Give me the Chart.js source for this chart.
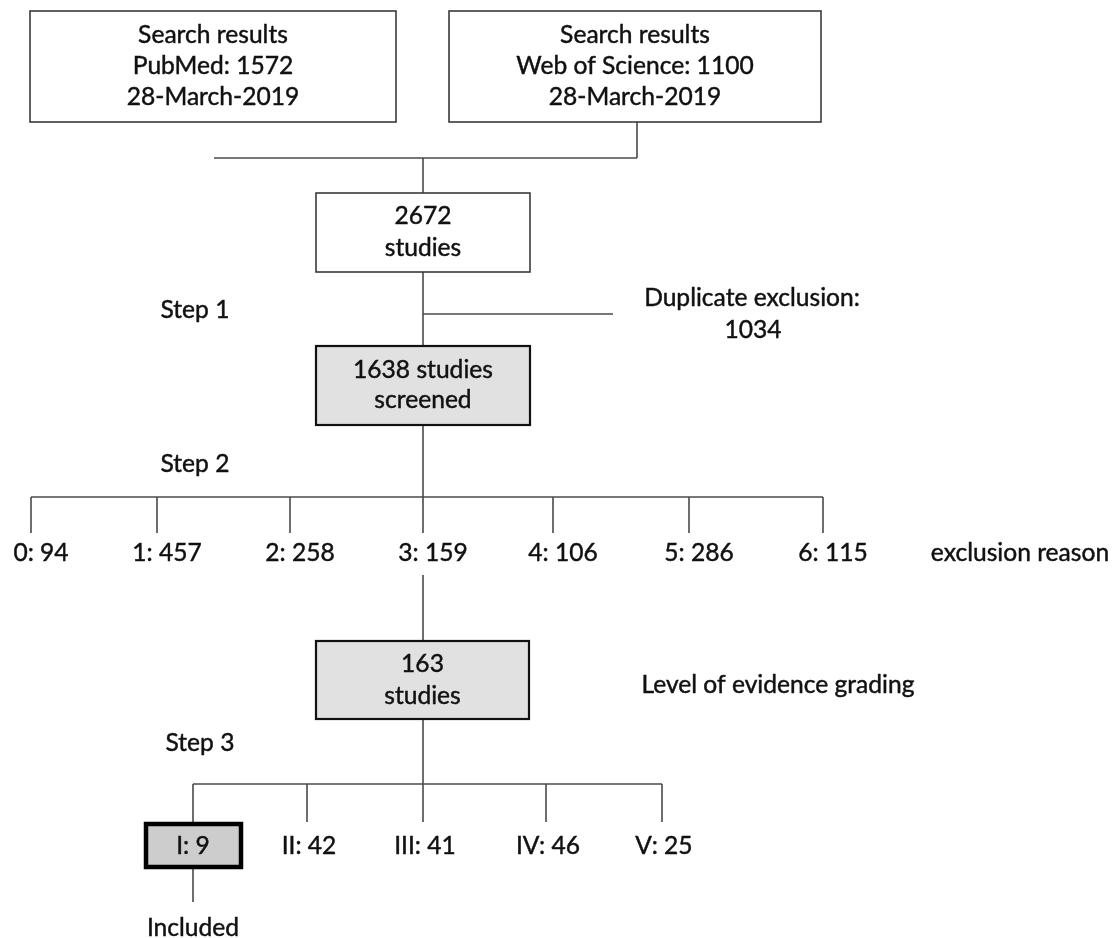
<!DOCTYPE html>
<html>
<head>
<meta charset="utf-8">
<title>Study selection flow</title>
<script src="https://cdn.jsdelivr.net/npm/chart.js@4.4.1/dist/chart.umd.min.js"></script>
<style>
  html, body { margin: 0; padding: 0; background: #fff; }
  #wrap { width: 1115px; height: 938px; }
</style>
</head>
<body>
<div id="wrap"><canvas id="flow" width="1115" height="938"></canvas></div>
<script>
// ---- data ----
const searchSources = ["PubMed", "Web of Science"];
const searchCounts = [1572, 1100];
const searchDate = "28-March-2019";
const totalStudies = 2672;
const duplicateExcluded = 1034;
const screenedStudies = 1638;
const exclusionCodes = [0, 1, 2, 3, 4, 5, 6];
const exclusionCounts = [94, 457, 258, 159, 106, 286, 115];
const gradedStudies = 163;
const evidenceLevels = ["I", "II", "III", "IV", "V"];
const evidenceCounts = [9, 42, 41, 46, 25];
const includedLevel = "I";
const stepLabels = ["Step 1", "Step 2", "Step 3"];

// ---- layout (page units, y grows downwards) ----
const W = 1115;
const H = 938;
const MID = 423;
const LAYOUT = {
  search: [
    { x0: 30, x1: 396, y0: 11, y1: 122 },
    { x0: 449, x1: 821, y0: 11, y1: 122 },
  ],
  mergeY: 158,
  mergeX0: 214,
  mergeX1: 637,
  total: { x0: 316, x1: 530, y0: 193, y1: 272 },
  dupY: 314,
  dupX1: 613,
  dupText: { x: 752, y: 298 },
  screened: { x0: 316, x1: 530, y0: 346, y1: 425 },
  exclBarY: 497,
  exclTickY: 533,
  exclX: [31, 157, 290, 423, 553, 689, 823],
  exclLabelY: 553,
  exclLabelDx: 10,
  exclCaption: { x: 1020, y: 553 },
  exclResumeY: 575,
  graded: { x0: 316, x1: 529, y0: 641, y1: 719 },
  gradeCaption: { x: 778, y: 685 },
  evidBarY: 784,
  evidTickY: 822,
  evidX: [193, 307, 423, 546, 662],
  evidLabelY: 846,
  includedBox: { x0: 146, x1: 241, y0: 824, y1: 867 },
  includedLineY: 902,
  includedText: { x: 193, y: 928 },
  steps: [
    { x: 195, y: 310 },
    { x: 195, y: 464 },
    { x: 200, y: 743 },
  ],
};

const FONT = '24.6px Lato, "Open Sans", sans-serif';
const INK = "#111";
const WIRE = "#4a4a4a";
const BOX_FILL = "#e1e1e1";
const PICK_FILL = "#cdcdcd";

/** one connector segment as a scatter dataset */
function seg(x0, y0, x1, y1) {
  return {
    data: [{ x: x0, y: y0 }, { x: x1, y: y1 }],
    showLine: true,
    borderColor: WIRE,
    borderWidth: 1.6,
    pointRadius: 0,
    fill: false,
  };
}

function buildConnectors() {
  const L = LAYOUT;
  const sets = [];
  const wos = L.search[1];
  sets.push(seg(L.mergeX1, wos.y1, L.mergeX1, L.mergeY));
  sets.push(seg(L.mergeX0, L.mergeY, L.mergeX1, L.mergeY));
  sets.push(seg(MID, L.mergeY, MID, L.total.y0));
  sets.push(seg(MID, L.total.y1, MID, L.screened.y0));
  sets.push(seg(MID, L.dupY, L.dupX1, L.dupY));
  sets.push(seg(MID, L.screened.y1, MID, L.exclBarY));
  sets.push(seg(L.exclX[0], L.exclBarY, L.exclX[L.exclX.length - 1], L.exclBarY));
  exclusionCodes.forEach((_, i) => {
    sets.push(seg(L.exclX[i], L.exclBarY, L.exclX[i], L.exclTickY));
  });
  const keep = exclusionCodes.indexOf(3);
  sets.push(seg(L.exclX[keep], L.exclResumeY, L.exclX[keep], L.graded.y0));
  sets.push(seg(MID, L.graded.y1, MID, L.evidBarY));
  sets.push(seg(L.evidX[0], L.evidBarY, L.evidX[L.evidX.length - 1], L.evidBarY));
  evidenceLevels.forEach((_, i) => {
    sets.push(seg(L.evidX[i], L.evidBarY, L.evidX[i], L.evidTickY));
  });
  const inc = evidenceLevels.indexOf(includedLevel);
  sets.push(seg(L.evidX[inc], L.includedBox.y1, L.evidX[inc], L.includedLineY));
  return sets;
}

const flowPlugin = {
  id: "flowBoxes",
  afterDatasetsDraw(chart) {
    const { ctx, scales } = chart;
    const px = (v) => scales.x.getPixelForValue(v);
    const py = (v) => scales.y.getPixelForValue(v);

    function box(b, fill, stroke, lw) {
      const x = px(b.x0), y = py(b.y0);
      const w = px(b.x1) - x, h = py(b.y1) - y;
      ctx.save();
      ctx.fillStyle = fill;
      ctx.fillRect(x, y, w, h);
      ctx.strokeStyle = stroke;
      ctx.lineWidth = lw;
      ctx.strokeRect(x, y, w, h);
      ctx.restore();
    }

    // slight stroke gives the scanned-looking weight of the original text
    function text(str, x, y) {
      ctx.save();
      ctx.font = FONT;
      ctx.fillStyle = INK;
      ctx.strokeStyle = INK;
      ctx.lineWidth = 0.45;
      ctx.textAlign = "center";
      ctx.textBaseline = "middle";
      ctx.fillText(str, px(x), py(y));
      ctx.strokeText(str, px(x), py(y));
      ctx.restore();
    }

    function lines(b, rows, gap) {
      const cx = (b.x0 + b.x1) / 2;
      const cy = (b.y0 + b.y1) / 2;
      const start = cy - ((rows.length - 1) * gap) / 2;
      rows.forEach((r, i) => text(r, cx, start + i * gap));
    }

    const L = LAYOUT;
    searchSources.forEach((src, i) => {
      const b = L.search[i];
      box(b, "#fff", "#3a3a3a", 1.6);
      lines(b, ["Search results", `${src}: ${searchCounts[i]}`, searchDate], 31);
    });

    box(L.total, "#fff", "#3a3a3a", 1.6);
    lines(L.total, [`${totalStudies}`, "studies"], 32);

    text("Duplicate exclusion:", L.dupText.x, L.dupText.y);
    text(`${duplicateExcluded}`, L.dupText.x + 1, L.dupText.y + 32);

    box(L.screened, BOX_FILL, "#111", 2.2);
    lines(L.screened, [`${screenedStudies} studies`, "screened"], 30);

    exclusionCodes.forEach((code, i) => {
      text(`${code}: ${exclusionCounts[i]}`, L.exclX[i] + L.exclLabelDx, L.exclLabelY);
    });
    text("exclusion reason", L.exclCaption.x, L.exclCaption.y);

    box(L.graded, BOX_FILL, "#111", 2.2);
    lines(L.graded, [`${gradedStudies}`, "studies"], 32);
    text("Level of evidence grading", L.gradeCaption.x, L.gradeCaption.y);

    const inc = evidenceLevels.indexOf(includedLevel);
    box(L.includedBox, PICK_FILL, "#000", 4.5);
    evidenceLevels.forEach((lvl, i) => {
      text(`${lvl}: ${evidenceCounts[i]}`, L.evidX[i] + (i === inc ? 0 : 2), L.evidLabelY);
    });
    text("Included", L.includedText.x, L.includedText.y);

    stepLabels.forEach((s, i) => text(s, L.steps[i].x, L.steps[i].y));
  },
};

new Chart(document.getElementById("flow"), {
  type: "scatter",
  data: { datasets: buildConnectors() },
  options: {
    responsive: false,
    animation: false,
    events: [],
    layout: { padding: 0 },
    plugins: {
      legend: { display: false },
      tooltip: { enabled: false },
    },
    scales: {
      x: { type: "linear", min: 0, max: W, display: false },
      y: { type: "linear", min: 0, max: H, reverse: true, display: false },
    },
  },
  plugins: [flowPlugin],
});
</script>
</body>
</html>
